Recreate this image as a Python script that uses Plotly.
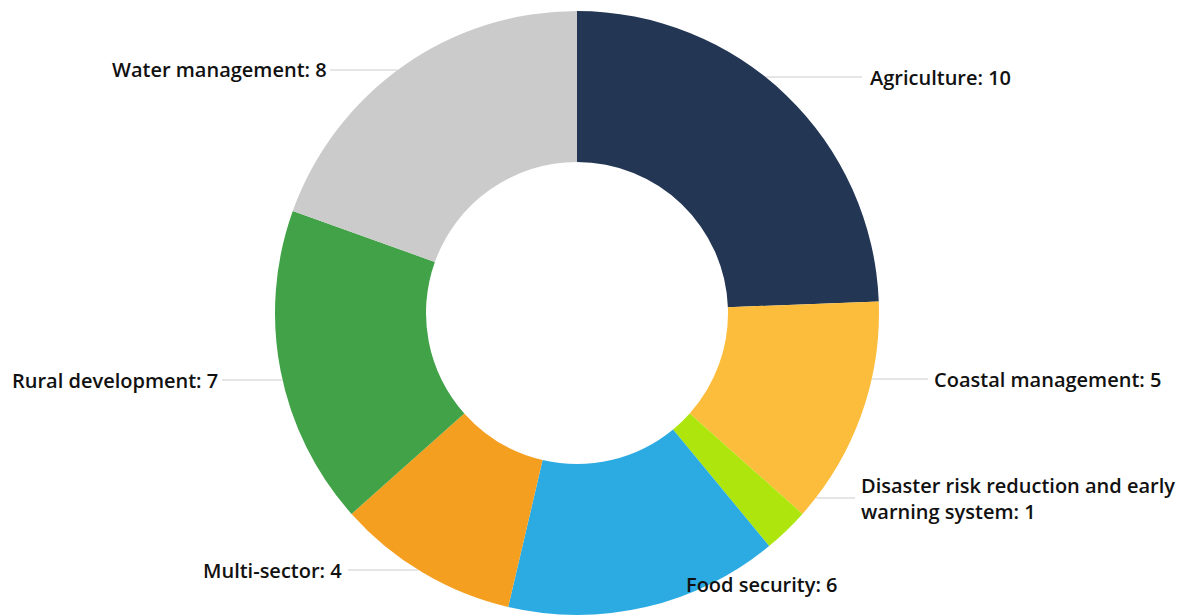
import math
import plotly.graph_objects as go

# Projects by sector
sectors = [
    "Agriculture",
    "Coastal management",
    "Disaster risk reduction and early<br>warning system",
    "Food security",
    "Multi-sector",
    "Rural development",
    "Water management",
]
counts = [10, 5, 1, 6, 4, 7, 8]
colors = ["#233755", "#FDBD3C", "#ADE50C", "#2CABE2", "#F59F20", "#41A247", "#CBCBCB"]

# Label placement (pixels): side, anchor x, label y, leader-line outer end x
label_side = ["right", "right", "right", "right", "left", "left", "left"]
label_x = [868, 932, 859, 684, 344, 220, 329]
label_y = [77, 379, 498, 584, 570, 380, 70]
line_end_x = [862, 928, 855, None, 348, 222, 330]

W, H = 1183, 615
CX, CY, R = 577, 313, 302

fig = go.Figure(
    go.Pie(
        labels=[s.replace("<br>", " ") for s in sectors],
        values=counts,
        marker=dict(colors=colors, line=dict(width=0)),
        hole=0.5,
        sort=False,
        direction="clockwise",
        rotation=0,
        textinfo="none",
        hoverinfo="label+value",
        showlegend=False,
        domain=dict(x=[(CX - R) / W, (CX + R) / W], y=[(H - CY - R) / H, (H - CY + R) / H]),
    )
)

shapes = []
annotations = []
for name, val, side, lx, ly, ex in zip(sectors, counts, label_side, label_x, label_y, line_end_x):
    annotations.append(
        dict(
            x=lx / W,
            y=1 - ly / H,
            xref="paper",
            yref="paper",
            xanchor="left" if side == "right" else "right",
            yanchor="middle",
            align="left",
            text=f"{name}: {val}",
            showarrow=False,
            font=dict(family="Open Sans, Lato, sans-serif", size=20, color="#111111", weight=600),
        )
    )
    if ex is not None:
        dy = ly - CY
        edge = math.sqrt(max(R * R - dy * dy, 0))
        x0 = CX + edge if side == "right" else CX - edge
        shapes.append(
            dict(
                type="line",
                xref="paper",
                yref="paper",
                x0=x0 / W,
                x1=ex / W,
                y0=1 - ly / H,
                y1=1 - ly / H,
                line=dict(color="#CCCCCC", width=1),
                layer="below",
            )
        )

fig.update_layout(
    width=W,
    height=H,
    margin=dict(l=0, r=0, t=0, b=0),
    paper_bgcolor="white",
    plot_bgcolor="white",
    shapes=shapes,
    annotations=annotations,
)

fig.write_html("out.html")
